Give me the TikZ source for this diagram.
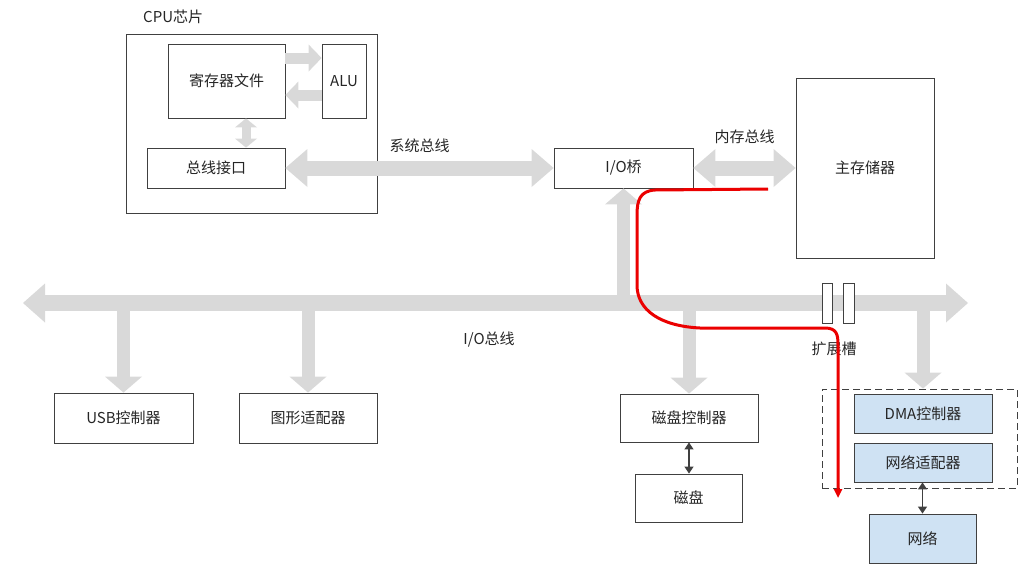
\documentclass[tikz,border=0pt]{standalone}
\usepackage{fontspec}
\setmainfont{Noto Sans CJK SC}
\usetikzlibrary{arrows.meta,positioning}
\definecolor{busgray}{RGB}{217,217,217}
\definecolor{boxline}{RGB}{64,64,64}
\definecolor{netblue}{RGB}{207,226,243}
\definecolor{pathred}{RGB}{235,0,0}

\begin{document}
\begin{tikzpicture}[x=1pt,y=-1pt,font=\fontsize{15}{17}\selectfont,text=black!85,
	unit/.style={draw=boxline,line width=0.8pt,fill=white,inner sep=0pt},
	blueunit/.style={unit,fill=netblue},
	fatbus/.style={busgray,line width=15pt,
		{Triangle[length=22pt,width=38pt,line width=0pt]}-{Triangle[length=22pt,width=38pt,line width=0pt]}},
	dropbus/.style={busgray,line width=13pt,-{Triangle[length=16pt,width=37pt,line width=0pt]}},
	cpuarrow/.style={busgray,line width=11pt,-{Triangle[length=13pt,width=27pt,line width=0pt]}},
	thinlink/.style={boxline,line width=1.2pt,{Triangle[length=7pt,width=9pt]}-{Triangle[length=7pt,width=9pt]}},
	buslabel/.style={text=black!85}]
		\useasboundingbox (0,0) rectangle (1026,565);
		%CPU
		\node[unit,fill=none,minimum width=251,minimum height=179] (cpu) at (251.5,123.5) {};
		\node[anchor=west,inner sep=0pt] (cpulabel) at (143,17) {CPU芯片};
		\node[unit,minimum width=117,minimum height=74] (regfile) at (226.5,81) {寄存器文件};
		\node[unit,minimum width=44,minimum height=74] (alu) at (344,81) {ALU};
		\node[unit,minimum width=138,minimum height=40] (busif) at (216,168) {总线接口};
		\draw[cpuarrow] ([yshift=23]regfile.east) -- ([yshift=23]alu.west);
		\draw[cpuarrow] ([yshift=-14]alu.west) -- ([yshift=-14]regfile.east);
		\draw[busgray,line width=9pt,{Triangle[length=9pt,width=22pt,line width=0pt]}-{Triangle[length=9pt,width=22pt,line width=0pt]}]
			([xshift=19.5]regfile.south) -- ([xshift=19.5]regfile.south |- busif.north);
		%Bridge and memory
		\node[unit,minimum width=139,minimum height=40] (bridge) at (623.5,168) {I/O桥};
		\node[unit,minimum width=138,minimum height=180] (mem) at (865,168) {主存储器};
		\draw[fatbus] (busif.east) -- (bridge.west) node[buslabel,midway,above=5pt] (sysbus) {系统总线};
		\draw[fatbus] (bridge.east) -- (mem.west) node[buslabel,midway,above=13pt] (membus) {内存总线};
		%I/O bus
		\coordinate (busL) at (23,303);
		\coordinate (busR) at (968,303);
		\node[unit,minimum width=139,minimum height=50] (usb) at (123.5,418) {USB控制器};
		\node[unit,minimum width=138,minimum height=50] (gfx) at (308,418) {图形适配器};
		\node[unit,minimum width=138,minimum height=48] (diskctl) at (689,418) {磁盘控制器};
		\node[unit,minimum width=107,minimum height=48] (disk) at (688.5,498) {磁盘};
		\node[draw=boxline,line width=0.8pt,dash pattern=on 7pt off 4pt,minimum width=195,minimum height=99] (slotbox) at (919.5,438.5) {};
		\node[blueunit,minimum width=138,minimum height=39] (dma) at (923,413.5) {DMA控制器};
		\node[blueunit,minimum width=138,minimum height=39] (nic) at (923,462.5) {网络适配器};
		\node[blueunit,minimum width=107,minimum height=49] (net) at (922.5,538.5) {网络};
		\draw[busgray,line width=16pt,{Triangle[length=22pt,width=39pt,line width=0pt]}-{Triangle[length=22pt,width=39pt,line width=0pt]}] (busL) -- (busR);
		\draw[dropbus] (bridge.south |- busL) -- (bridge.south);
		\draw[dropbus] (usb.north |- busL) -- (usb.north);
		\draw[dropbus] (gfx.north |- busL) -- (gfx.north);
		\draw[dropbus] (diskctl.north |- busL) -- (diskctl.north);
		\draw[dropbus] (dma.north |- busL) -- (slotbox.north -| dma.north);
		\node (iobus) at (489,340) {I/O总线};
		%Slots
		\node[unit,minimum width=10,minimum height=40] (slotA) at (827,303) {};
		\node[unit,minimum width=11,minimum height=40] (slotB) at (848.5,303) {};
		\node (slotlabel) at (834,349) {扩展槽};
		%Links
		\draw[thinlink] (diskctl.south) -- (disk.north -| diskctl.south);
		\draw[thinlink] (nic.south -| net.north) -- (net.north);
		%Data path
		\coordinate (pathstart) at (768,189);
		\coordinate (pathend) at (838,498);
		\draw[pathred,line width=3pt,-{Triangle[length=9pt,width=8pt]}] (pathstart) -- (655,190)
			.. controls (640,191) and (637,200) .. (637,215) -- (637,285)
			.. controls (637,310) and (660,326) .. (700,328) -- (825,328)
			.. controls (837,328) and (838,335) .. (838,345) -- (pathend);
\end{tikzpicture}
\end{document}
